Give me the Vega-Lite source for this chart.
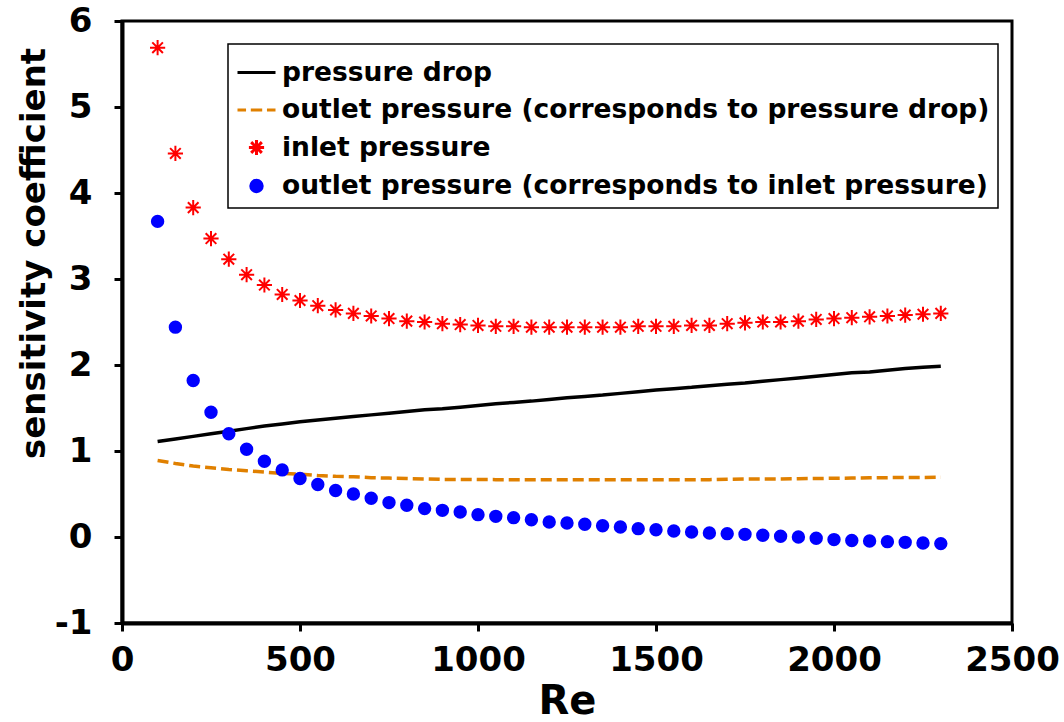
{
  "$schema": "https://vega.github.io/schema/vega-lite/v6.json",
  "width": 890,
  "height": 602,
  "autosize": {"type": "none"},
  "padding": {"left": 122, "top": 21, "right": 52, "bottom": 99},
  "background": "white",
  "config": {
    "view": {"stroke": "black", "strokeWidth": 3},
    "font": "DejaVu Sans",
    "axis": {
      "grid": false,
      "domainColor": "black",
      "domainWidth": 4,
      "tickColor": "black",
      "tickWidth": 3,
      "tickSize": 8,
      "labelColor": "black",
      "labelFont": "DejaVu Sans",
      "labelFontWeight": "bold",
      "labelFontSize": 34,
      "labelFlush": false,
      "labelOverlap": false,
      "titleColor": "black",
      "titleFont": "DejaVu Sans",
      "titleFontWeight": "bold"
    },
    "legend": {
      "orient": "none",
      "legendX": 106,
      "legendY": 23,
      "strokeColor": "black",
      "strokeWidth": 1.5,
      "fillColor": "white",
      "padding": 8,
      "rowPadding": 3.5,
      "labelOffset": 5,
      "symbolSize": 1444,
      "labelFont": "DejaVu Sans",
      "labelFontWeight": "bold",
      "labelFontSize": 26.5,
      "labelColor": "black",
      "labelLimit": 1000,
      "symbolStrokeWidth": 3,
      "symbolOpacity": 1
    }
  },
  "data": {
    "values": [
      {"Re": 100, "pd": 1.11, "opd": 0.89, "ip": 5.69, "oip": 3.67},
      {"Re": 150, "pd": 1.14, "opd": 0.855, "ip": 4.46, "oip": 2.44},
      {"Re": 200, "pd": 1.17, "opd": 0.825, "ip": 3.83, "oip": 1.82},
      {"Re": 250, "pd": 1.2, "opd": 0.805, "ip": 3.47, "oip": 1.45},
      {"Re": 300, "pd": 1.23, "opd": 0.785, "ip": 3.23, "oip": 1.2},
      {"Re": 350, "pd": 1.26, "opd": 0.77, "ip": 3.05, "oip": 1.02},
      {"Re": 400, "pd": 1.29, "opd": 0.755, "ip": 2.93, "oip": 0.88},
      {"Re": 450, "pd": 1.315, "opd": 0.74, "ip": 2.82, "oip": 0.78},
      {"Re": 500, "pd": 1.34, "opd": 0.73, "ip": 2.75, "oip": 0.68},
      {"Re": 550, "pd": 1.36, "opd": 0.715, "ip": 2.69, "oip": 0.61},
      {"Re": 600, "pd": 1.38, "opd": 0.705, "ip": 2.64, "oip": 0.54},
      {"Re": 650, "pd": 1.4, "opd": 0.7, "ip": 2.6, "oip": 0.5},
      {"Re": 700, "pd": 1.42, "opd": 0.69, "ip": 2.57, "oip": 0.45},
      {"Re": 750, "pd": 1.44, "opd": 0.685, "ip": 2.54, "oip": 0.4},
      {"Re": 800, "pd": 1.46, "opd": 0.68, "ip": 2.51, "oip": 0.37},
      {"Re": 850, "pd": 1.48, "opd": 0.675, "ip": 2.5, "oip": 0.33},
      {"Re": 900, "pd": 1.49, "opd": 0.67, "ip": 2.48, "oip": 0.31},
      {"Re": 950, "pd": 1.51, "opd": 0.67, "ip": 2.47, "oip": 0.29},
      {"Re": 1000, "pd": 1.53, "opd": 0.668, "ip": 2.46, "oip": 0.26},
      {"Re": 1050, "pd": 1.55, "opd": 0.667, "ip": 2.45, "oip": 0.24},
      {"Re": 1100, "pd": 1.565, "opd": 0.667, "ip": 2.45, "oip": 0.225},
      {"Re": 1150, "pd": 1.58, "opd": 0.667, "ip": 2.44, "oip": 0.2},
      {"Re": 1200, "pd": 1.6, "opd": 0.667, "ip": 2.44, "oip": 0.175},
      {"Re": 1250, "pd": 1.62, "opd": 0.667, "ip": 2.44, "oip": 0.163},
      {"Re": 1300, "pd": 1.635, "opd": 0.667, "ip": 2.44, "oip": 0.148},
      {"Re": 1350, "pd": 1.65, "opd": 0.667, "ip": 2.44, "oip": 0.13},
      {"Re": 1400, "pd": 1.67, "opd": 0.667, "ip": 2.44, "oip": 0.116},
      {"Re": 1450, "pd": 1.69, "opd": 0.667, "ip": 2.45, "oip": 0.097},
      {"Re": 1500, "pd": 1.71, "opd": 0.667, "ip": 2.45, "oip": 0.085},
      {"Re": 1550, "pd": 1.725, "opd": 0.667, "ip": 2.45, "oip": 0.07},
      {"Re": 1600, "pd": 1.74, "opd": 0.667, "ip": 2.46, "oip": 0.058},
      {"Re": 1650, "pd": 1.76, "opd": 0.667, "ip": 2.46, "oip": 0.047},
      {"Re": 1700, "pd": 1.775, "opd": 0.672, "ip": 2.48, "oip": 0.039},
      {"Re": 1750, "pd": 1.79, "opd": 0.675, "ip": 2.49, "oip": 0.031},
      {"Re": 1800, "pd": 1.81, "opd": 0.675, "ip": 2.5, "oip": 0.02},
      {"Re": 1850, "pd": 1.83, "opd": 0.675, "ip": 2.5, "oip": 0.008},
      {"Re": 1900, "pd": 1.85, "opd": 0.678, "ip": 2.51, "oip": 0.0},
      {"Re": 1950, "pd": 1.87, "opd": 0.68, "ip": 2.53, "oip": -0.015},
      {"Re": 2000, "pd": 1.89, "opd": 0.683, "ip": 2.54, "oip": -0.03},
      {"Re": 2050, "pd": 1.91, "opd": 0.685, "ip": 2.55, "oip": -0.04},
      {"Re": 2100, "pd": 1.92, "opd": 0.688, "ip": 2.56, "oip": -0.047},
      {"Re": 2150, "pd": 1.94, "opd": 0.69, "ip": 2.57, "oip": -0.054},
      {"Re": 2200, "pd": 1.96, "opd": 0.692, "ip": 2.58, "oip": -0.062},
      {"Re": 2250, "pd": 1.975, "opd": 0.693, "ip": 2.59, "oip": -0.07},
      {"Re": 2300, "pd": 1.985, "opd": 0.695, "ip": 2.6, "oip": -0.077}
    ]
  },
  "transform": [{"fold": ["pd", "opd", "ip", "oip"], "as": ["series", "value"]}],
  "encoding": {
    "x": {
      "field": "Re",
      "type": "quantitative",
      "scale": {"domain": [0, 2500], "nice": false, "zero": false},
      "axis": {
        "values": [0, 500, 1000, 1500, 2000, 2500],
        "format": "d",
        "labelPadding": 12,
        "title": "Re",
        "titleFontSize": 40,
        "titleBaseline": "alphabetic",
        "titleY": 90
      }
    },
    "y": {
      "field": "value",
      "type": "quantitative",
      "scale": {"domain": [-1, 6], "nice": false, "zero": false},
      "axis": {
        "values": [-1, 0, 1, 2, 3, 4, 5, 6],
        "labelExpr": "'' + datum.value",
        "labelPadding": 22,
        "title": "sensitivity coefficient",
        "titleFontSize": 34,
        "titleBaseline": "alphabetic",
        "titleX": -78,
        "titleY": 232
      }
    }
  },
  "layer": [
    {
      "transform": [{"filter": "datum.series === 'pd'"}],
      "mark": {"type": "line", "strokeWidth": 3.5, "color": "#000000"}
    },
    {
      "transform": [{"filter": "datum.series === 'opd'"}],
      "mark": {"type": "line", "strokeWidth": 3.5, "color": "#E08000", "strokeDash": [11, 5]}
    },
    {
      "transform": [{"filter": "datum.series === 'ip' || datum.series === 'oip'"}],
      "mark": {"type": "point", "filled": true, "size": 1444, "strokeWidth": 2, "opacity": 1},
      "encoding": {
        "shape": {
          "field": "series",
          "type": "nominal",
          "scale": {
            "domain": ["pd", "opd", "ip", "oip"],
            "range": [
              "M-1,0H1",
              "M-1,0H-0.55M-0.3,0H0.3M0.55,0H1",
              "M0,-0.4V0.4M-0.4,0H0.4M-0.28,-0.28L0.28,0.28M-0.28,0.28L0.28,-0.28",
              "M-0.3,0A0.3,0.3 0 1,0 0.3,0A0.3,0.3 0 1,0 -0.3,0Z"
            ]
          },
          "legend": {
            "title": null,
            "labelExpr": "datum.label === 'pd' ? 'pressure drop' : datum.label === 'opd' ? 'outlet pressure (corresponds to pressure drop)' : datum.label === 'ip' ? 'inlet pressure' : 'outlet pressure (corresponds to inlet pressure)'"
          }
        },
        "fill": {
          "field": "series",
          "type": "nominal",
          "scale": {"domain": ["pd", "opd", "ip", "oip"], "range": ["#000000", "#E08000", "#FF0000", "#0000FF"]},
          "legend": {
            "title": null,
            "labelExpr": "datum.label === 'pd' ? 'pressure drop' : datum.label === 'opd' ? 'outlet pressure (corresponds to pressure drop)' : datum.label === 'ip' ? 'inlet pressure' : 'outlet pressure (corresponds to inlet pressure)'"
          }
        },
        "stroke": {
          "field": "series",
          "type": "nominal",
          "scale": {"domain": ["pd", "opd", "ip", "oip"], "range": ["#000000", "#E08000", "#FF0000", "#0000FF"]},
          "legend": {
            "title": null,
            "labelExpr": "datum.label === 'pd' ? 'pressure drop' : datum.label === 'opd' ? 'outlet pressure (corresponds to pressure drop)' : datum.label === 'ip' ? 'inlet pressure' : 'outlet pressure (corresponds to inlet pressure)'"
          }
        }
      }
    }
  ]
}
